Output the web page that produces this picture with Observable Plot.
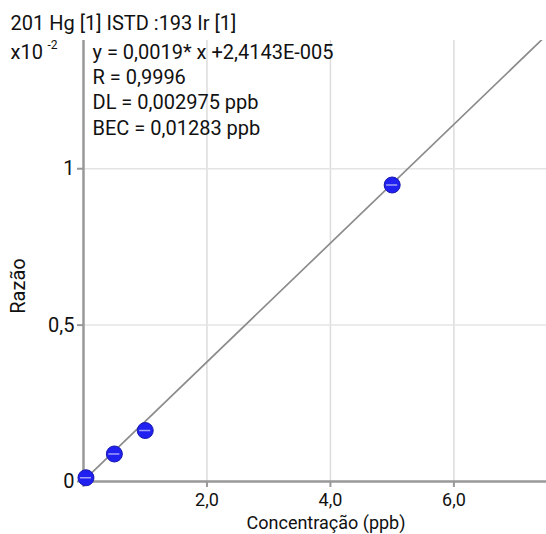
<!DOCTYPE html>
<html><head><meta charset="utf-8">
<script src="https://cdn.jsdelivr.net/npm/d3@7"></script>
<script src="https://cdn.jsdelivr.net/npm/@observablehq/plot@0.6"></script>
<style>body{margin:0;background:#fff} svg{display:block}</style>
</head><body><div id="chart"></div>
<script>
const concentration = [0.04, 0.5, 1, 5];
const ratio = [0.012, 0.088, 0.163, 0.948];
const fitX = [0, 7.5];
const fitY = [0.0024, 1.427];
const xTicks = [0, 2, 4, 6];
const xTickLabels = ["", "2,0", "4,0", "6,0"];
const yTicks = [0, 0.5, 1];
const yTickLabels = ["0", "0,5", "1"];
const title = "201 Hg [1] ISTD :193 Ir [1]";
const scaleNote = "x10";
const scaleExp = "-2";
const statsLines = ["y = 0,0019* x +2,4143E-005", "R = 0,9996", "DL = 0,002975 ppb", "BEC = 0,01283 ppb"];
const xLabel = "Concentração (ppb)";
const yLabel = "Razão";

const points = concentration.map((c, i) => ({x: c, y: ratio[i]}));
const fit = fitX.map((x, i) => ({x, y: fitY[i]}));
const FONT = "Roboto, 'DejaVu Sans', sans-serif";

const chart = Plot.plot({
  width: 546, height: 534,
  marginLeft: 83, marginRight: 0, marginTop: 40, marginBottom: 53,
  style: {fontFamily: FONT, fontSize: "20px", background: "#fff", color: "#111"},
  x: {domain: [0, 7.5]},
  y: {domain: [0, 1.41]},
  marks: [
    Plot.gridX([2, 4, 6], {stroke: "#dcdcdc", strokeOpacity: 1, strokeWidth: 1.5}),
    Plot.gridY([0.5, 1], {stroke: "#e4e4e4", strokeOpacity: 1, strokeWidth: 1.5}),
    Plot.axisX({ticks: xTicks, tickFormat: d => xTickLabels[xTicks.indexOf(d)], tickSize: 6, tickPadding: 6, stroke: "#999", strokeWidth: 2, fontSize: 18, label: null}),
    Plot.axisY({ticks: yTicks, tickFormat: d => yTickLabels[yTicks.indexOf(d)], tickSize: 6, tickPadding: 3, stroke: "#999", strokeWidth: 2, fontSize: 20, label: null}),
    Plot.ruleX([0], {stroke: "#999", strokeWidth: 2.5}),
    Plot.ruleY([0], {stroke: "#999", strokeWidth: 2.5}),
    Plot.line(fit, {x: "x", y: "y", stroke: "#8c8c8c", strokeWidth: 1.7, clip: true}),
    Plot.dot(points, {x: "x", y: "y", r: 8, fill: "#2020f0", stroke: "#1818b0", strokeWidth: 1}),
    Plot.ruleY(points, {y: "y", x1: d => d.x - 0.09, x2: d => d.x + 0.09, stroke: "#a0a0f8", strokeWidth: 1.5}),
    Plot.text([statsLines.join("\n")], {frameAnchor: "top-left", dx: 9, dy: 0, lineAnchor: "top", textAnchor: "start", lineHeight: 1.27, fontSize: 20, fill: "#111"}),
    Plot.text([title], {frameAnchor: "top-left", dx: -73, dy: -16.5, lineAnchor: "middle", textAnchor: "start", fontSize: 20, fill: "#111"}),
    Plot.text([scaleNote], {frameAnchor: "top-left", dx: -73, dy: 12, lineAnchor: "middle", textAnchor: "start", fontSize: 20, fill: "#111"}),
    Plot.text([scaleExp], {frameAnchor: "top-left", dx: -36, dy: 5, lineAnchor: "middle", textAnchor: "start", fontSize: 12, fill: "#111"}),
    Plot.text([xLabel], {frameAnchor: "bottom", dx: 11, dy: 42, lineAnchor: "middle", textAnchor: "middle", fontSize: 18, fill: "#111"}),
    Plot.text([yLabel], {frameAnchor: "left", dx: -65, dy: 25, lineAnchor: "middle", textAnchor: "middle", rotate: -90, fontSize: 20, fill: "#111"})
  ]
});
document.getElementById("chart").appendChild(chart);
</script></body></html>
